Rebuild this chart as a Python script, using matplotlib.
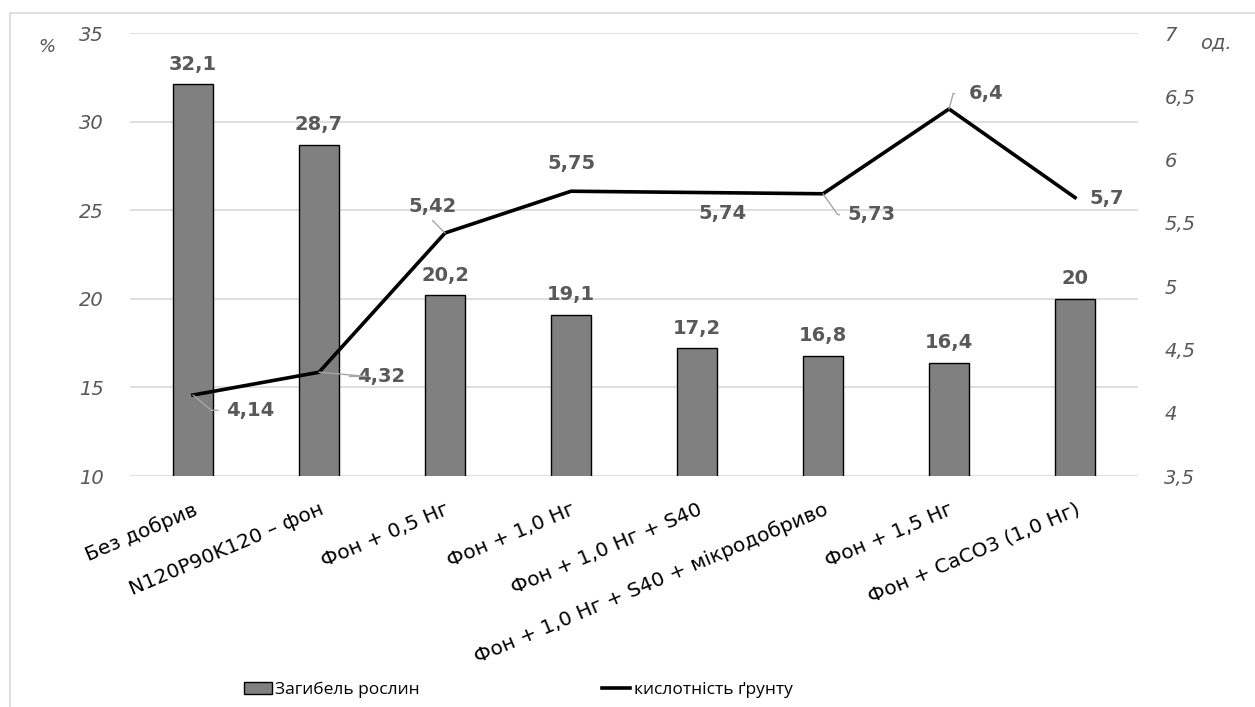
import matplotlib.pyplot as plt
from matplotlib.patches import Rectangle
from matplotlib.lines import Line2D

# data
categories = ['Без добрив', 'N120P90K120 – фон', 'Фон + 0,5 Hг', 'Фон + 1,0 Hг',
              'Фон + 1,0 Hг + S40', 'Фон + 1,0 Hг + S40 + мікродобриво',
              'Фон + 1,5 Hг', 'Фон + CaCO3 (1,0 Hг)']
loss = [32.1, 28.7, 20.2, 19.1, 17.2, 16.8, 16.4, 20.0]
acidity = [4.14, 4.32, 5.42, 5.75, 5.74, 5.73, 6.4, 5.7]
loss_labels = ['32,1', '28,7', '20,2', '19,1', '17,2', '16,8', '16,4', '20']
acid_labels = ['4,14', '4,32', '5,42', '5,75', '5,74', '5,73', '6,4', '5,7']
left_ticks = [10, 15, 20, 25, 30, 35]
right_ticks = [3.5, 4, 4.5, 5, 5.5, 6, 6.5, 7]

grey_txt = '#595959'

fig = plt.figure(figsize=(12.55, 7.07), dpi=100)
ax = fig.add_axes([0.1036, 0.3267, 0.8032, 0.6266])
ax2 = ax.twinx()

# outer chart frame
fig.patches.append(Rectangle((10 / 1255, -0.05), 1.1, 1 - 13 / 707 + 0.05,
                             transform=fig.transFigure, fill=False,
                             edgecolor='#d9d9d9', linewidth=1.2))

x = list(range(len(categories)))
ax.bar(x, loss, width=0.32, color='#808080', edgecolor='black', linewidth=1, zorder=2)
ax.set_xlim(-0.5, len(categories) - 0.5)
ax.set_ylim(10, 35)
ax.set_yticks(left_ticks)
ax.set_yticklabels([str(t) for t in left_ticks], fontsize=14, style='italic', color=grey_txt)
ax.grid(axis='y', color='#d9d9d9', linewidth=1.2, zorder=0)
ax.set_axisbelow(True)
for s in ax.spines.values():
    s.set_visible(False)
for s in ax2.spines.values():
    s.set_visible(False)
ax.tick_params(axis='both', length=0)
ax.tick_params(axis='y', pad=19)
ax.set_xticks(x)
ax.set_xticklabels(categories, rotation=23, ha='right', rotation_mode='anchor',
                   fontsize=14.5, color='black')
ax.tick_params(axis='x', pad=17)

for xi, v, lab in zip(x, loss, loss_labels):
    ax.text(xi, v + 0.6, lab, ha='center', va='bottom', fontsize=14,
            fontweight='bold', color=grey_txt)

# acidity line
ax2.plot(x, acidity, color='black', linewidth=2.6, zorder=3)
ax2.set_ylim(3.5, 7)
ax2.set_yticks(right_ticks)
ax2.set_yticklabels([str(t).replace('.', ',') if t % 1 else str(int(t)) for t in right_ticks],
                    fontsize=14, style='italic', color=grey_txt)
ax2.tick_params(axis='y', length=0, pad=19)

# line labels: text centre offset in points, leader angle (None = no leader)
offsets = [(41, -11, -40), (45, -3, -5), (-9, 19, 'up'), (0, 20, None),
           (18, -15, None), (35, -15, -55), (27, 11, 75), (23, -1, None)]
for xi, v, lab, (dx, dy, ang) in zip(x, acidity, acid_labels, offsets):
    ax2.annotate(lab, xy=(xi, v), xytext=(dx, dy), textcoords='offset points',
                 ha='center', va='center', fontsize=14, fontweight='bold',
                 color=grey_txt)
    if ang == 'up':
        ax2.annotate('', xy=(xi, v), xytext=(dx, dy - 10), textcoords='offset points',
                     arrowprops=dict(arrowstyle='-', color='#a6a6a6', lw=1,
                                     shrinkA=0, shrinkB=0))
    elif ang is not None:
        # leader line from the text's left edge to the point
        ax2.annotate('', xy=(xi, v), xytext=(dx - 23, dy), textcoords='offset points',
                     arrowprops=dict(arrowstyle='-', color='#a6a6a6', lw=1,
                                     shrinkA=0, shrinkB=0,
                                     connectionstyle=f'angle,angleA=0,angleB={ang}'))

# axis unit labels
fig.text(38 / 1255, 1 - 47 / 707, '%', fontsize=13, style='italic', color=grey_txt,
         ha='left', va='center')
fig.text(1200 / 1255, 1 - 43 / 707, 'од.', fontsize=14, style='italic', color=grey_txt,
         ha='left', va='center')

# legend
handles = [Rectangle((0, 0), 1, 1, facecolor='#808080', edgecolor='black', linewidth=1),
           Line2D([0], [0], color='black', linewidth=2.6)]
fig.legend(handles, ['Загибель рослин', 'кислотність ґрунту'], loc='center',
           bbox_to_anchor=(0.413, 1 - 690 / 707), ncol=2, frameon=False,
           prop={'family': 'Open Sans', 'size': 12.5}, columnspacing=10.5,
           handlelength=1.6, handletextpad=0.2)

fig.savefig('out.png', dpi=100)
